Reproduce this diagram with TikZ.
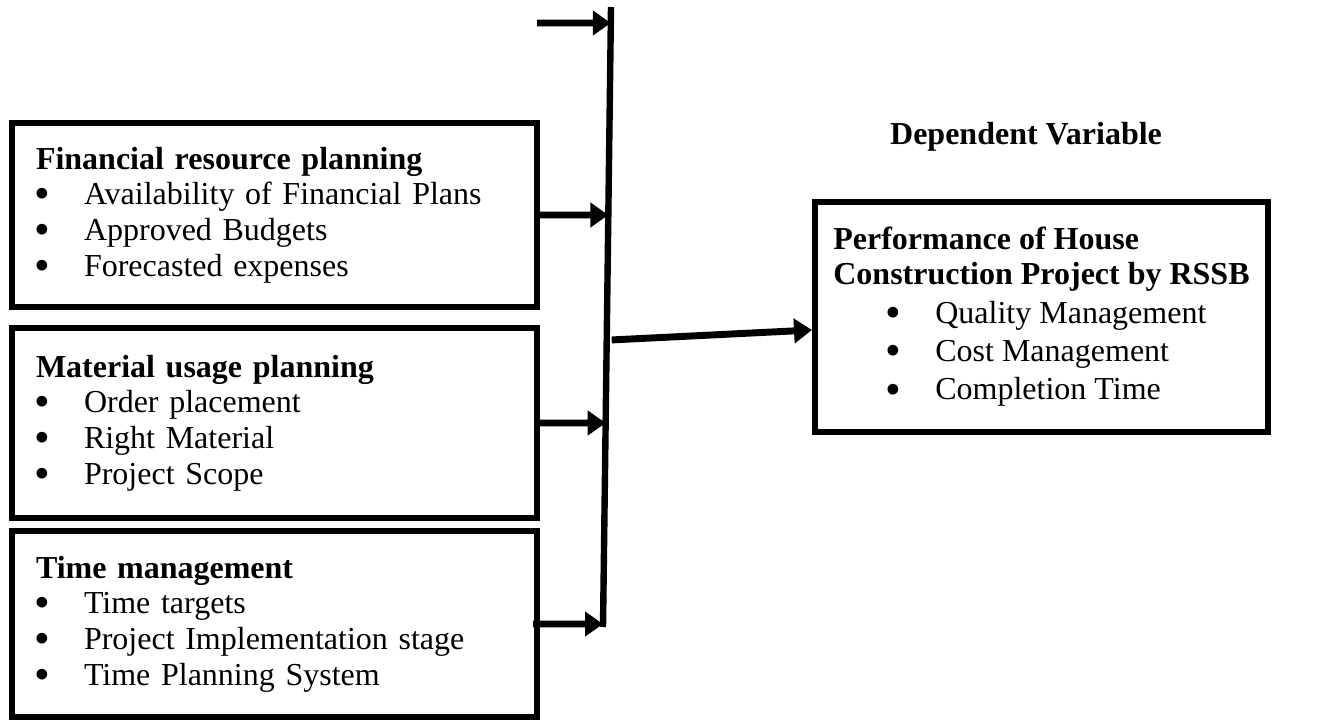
\documentclass[tikz,border=0pt]{standalone}
\usepackage{fontspec}
\setmainfont{Liberation Serif}
\usetikzlibrary{arrows.meta,calc}

\newlength{\du}
\setlength{\du}{0.375pt}
\newcommand{\itm}[2][0\du]{\hspace*{#1}\makebox[48\du][l]{\makebox[12\du]{\raisebox{-0.13em}{\scalebox{1.4}{\textbullet}}}}#2}

\tikzset{
  varbox/.style={draw, rectangle, line width=2.25pt, align=left, inner ysep=0pt,
    font=\fontsize{12}{13.4}\selectfont},
  flow/.style={line width=2.6pt, -{Triangle[length=6.75pt,width=9pt]}},
  bar/.style={line width=2.4pt},
}

\begin{document}
\begin{tikzpicture}
\pgftransformxscale{1.000000}
\pgftransformyscale{-1.000000}
\useasboundingbox (0\du,0\du) rectangle (1331\du,720\du);

% independent variables
\node[varbox, text width=477\du, inner xsep=24\du, minimum height=184\du] (fin) at (274.5\du,215\du)
  {\textbf{Financial resource planning}\\ \itm{Availability of Financial Plans}\\ \itm{Approved Budgets}\\ \itm{Forecasted expenses}};
\node[varbox, text width=477\du, inner xsep=24\du, minimum height=190\du] (mat) at (274.5\du,423\du)
  {\textbf{Material usage planning}\\ \itm{Order placement}\\ \itm{Right Material}\\ \itm{Project Scope}};
\node[varbox, text width=477\du, inner xsep=24\du, minimum height=186\du] (time) at (274.5\du,624\du)
  {\textbf{Time management}\\ \itm{Time targets}\\ \itm{Project Implementation stage}\\ \itm{Time Planning System}};

% dependent variable
\node[font=\fontsize{12}{14}\selectfont\bfseries] (dv) at (1026\du,137\du) {Dependent Variable};
\node[varbox, font=\fontsize{12}{14.4}\selectfont, minimum width=453\du, minimum height=230\du] (res) at (1041.5\du,317\du)
  {\textbf{Performance of House}\\[-1.3pt] \textbf{Construction Project by RSSB}\\ \itm[54\du]{Quality Management}\\ \itm[54\du]{Cost Management}\\ \itm[54\du]{Completion Time}};

% collecting line
\coordinate (vtop) at (611\du,7\du);
\coordinate (vbot) at (603\du,627\du);
\draw[bar] (vtop) -- (vbot);
\coordinate (j1) at ($(vtop)!0.0258!(vbot)$);
\coordinate (j2) at ($(vtop)!0.3355!(vbot)$);
\coordinate (j3) at ($(vtop)!0.671!(vbot)$);
\coordinate (j4) at ($(vtop)!0.9952!(vbot)$);
\coordinate (in0) at (537\du,23\du);
\coordinate (jout) at ($(vtop)!0.537!(vbot)+(5\du,0\du)$);
\coordinate (rin) at ($(res.west)+(0\du,13\du)$);

\draw[flow] (in0) -- (j1);
\draw[flow] (fin.east) -- (j2);
\draw[flow] (mat.east) -- (j3);
\draw[flow] ($(time.east)+(-7\du,0\du)$) -- (j4);
\draw[flow] (jout) -- (rin);
\end{tikzpicture}
\end{document}
